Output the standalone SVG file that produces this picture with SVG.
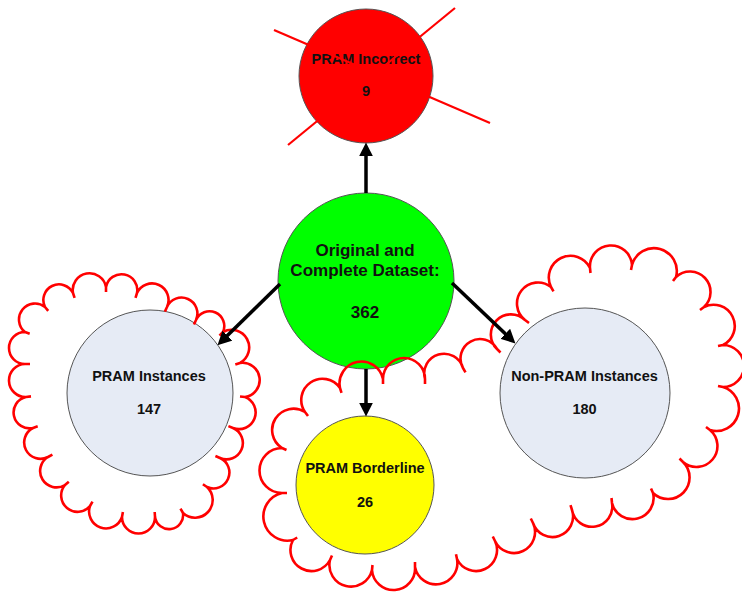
<svg xmlns="http://www.w3.org/2000/svg" width="742" height="592" viewBox="0 0 742 592">
<style>
.node{stroke:#555;stroke-width:1}
.t{font-family:"Liberation Sans",Arial,sans-serif;font-weight:bold;fill:#111;text-anchor:middle;font-size:14.5px}
.big{font-size:17px}
.cloud{fill:none;stroke:#ff0000;stroke-width:2.6;stroke-linecap:butt;stroke-linejoin:round}
.xline{stroke:#ff0000;stroke-width:2.2}
.conn{stroke:#000;stroke-width:3.5;fill:none}
</style>
<defs>
<marker id="ah" markerUnits="userSpaceOnUse" markerWidth="14" markerHeight="14" viewBox="0 0 13 13" refX="5" refY="6.5" orient="auto">
<path d="M0,0 L13,6.5 L0,13 z" fill="#000"/>
</marker>
</defs>
<rect width="742" height="592" fill="#fff"/>

<g id="node-incorrect">
<circle class="node" cx="366" cy="76" r="67" fill="#ff0000"/>
<text class="t" x="366" y="64">PRAM Incorrect</text>
<text class="t" x="366" y="96">9</text>
</g>

<g id="node-original">
<circle class="node" cx="366" cy="281" r="88" fill="#00ff00"/>
<text class="t big" x="365" y="256">Original and</text>
<text class="t big" x="365" y="276">Complete Dataset:</text>
<text class="t big" x="365" y="317.5">362</text>
</g>

<g id="node-pram">
<circle class="node" cx="150" cy="393" r="83" fill="#e6ebf5"/>
<text class="t" x="149" y="380.7">PRAM Instances</text>
<text class="t" x="149" y="414">147</text>
</g>

<g id="node-borderline">
<circle class="node" cx="365" cy="485" r="69" fill="#ffff00"/>
<text class="t" x="365" y="472.7">PRAM Borderline</text>
<text class="t" x="365" y="506.7">26</text>
</g>

<g id="node-nonpram">
<circle class="node" cx="585" cy="393" r="85" fill="#e6ebf5"/>
<text class="t" x="584.5" y="380.7">Non-PRAM Instances</text>
<text class="t" x="584.5" y="414">180</text>
</g>

<g id="cross-marks">
<line class="xline" x1="274" y1="30" x2="490" y2="123"/>
<line class="xline" x1="455" y1="8" x2="288" y2="145"/>
</g>

<g id="cloud-left">
<path class="cloud" d="M45,307 A1,1 0 0 1 73,293 L74.6,297.8 M73,293 A1,1 0 0 1 106,287 L106,292 M106,287 A1,1 0 0 1 137,293 L135.5,297.8 M137,293 A1,1 0 0 1 167,307 L164.9,311.6 M167,307 A1,1 0 0 1 196,320 L194,324.6 M196,320 A1,1 0 0 1 223,332 L219.5,335.6 M223,332 A1,1 0 0 1 240,363 L235.3,364.6 M240,363 A1,1 0 0 1 245,397 L240,396.5 M245,397 A1,1 0 0 1 233,428 L228.4,426.1 M233,428 A1,1 0 0 1 220,458 L215.4,456 M220,458 A1,1 0 0 1 207,487 L202.9,484.2 M207,487 A1,1 0 0 1 183,513 L180.5,508.7 M183,513 A1,1 0 0 1 155,517 L154.7,512 M155,517 A1,1 0 0 1 122,517 L122.9,512 M122,517 A1,1 0 0 1 90,506 L92.5,501.7 M90,506 A1,1 0 0 1 65,485 L68.8,481.8 M65,485 A1,1 0 0 1 48,457 L52.4,454.6 M48,457 A1,1 0 0 1 33,428 L37.7,426.3 M33,428 A1,1 0 0 1 26,397 L31,396.4 M26,397 A1,1 0 0 1 25,364 L30,364 M25,364 A1,1 0 0 1 25,332 L29.7,333.7 M25,332 A1,1 0 0 1 45,307 L48.2,310.9"/>
</g>

<g id="cloud-right">
<path class="cloud" d="M282,493 A1,1 0 0 1 282,448 L286.5,450 M282,448 A1,1 0 0 1 305,412 L308,416 M305,412 A1,1 0 0 1 340,388 L341.5,392.8 M340,388 A1,1 0 0 1 383,379 L383,384 M383,379 A1,1 0 0 1 425,379 L425,384 M425,379 A1,1 0 0 1 463,368 L465.5,372.3 M463,368 A1,1 0 0 1 497,349 L500.5,352.5 M497,349 A1,1 0 0 1 525,320 L529,323 M525,320 A1,1 0 0 1 551,287 L553.5,291.3 M551,287 A1,1 0 0 1 590,268 L590.5,273 M590,268 A1,1 0 0 1 632,265 L631,270 M632,265 A1,1 0 0 1 676,277 L673,281 M676,277 A1,1 0 0 1 704,307 L700,310 M704,307 A1,1 0 0 1 723,345 L718,346 M723,345 A1,1 0 0 1 723,387 L718,386 M723,387 A1,1 0 0 1 710,430 L706,427 M710,430 A1,1 0 0 1 683,462 L679.5,458.5 M683,462 A1,1 0 0 1 653,493 L651,488.5 M653,493 A1,1 0 0 1 612,503 L611.5,498 M612,503 A1,1 0 0 1 572,510 L570.5,505.2 M572,510 A1,1 0 0 1 533,523 L530.8,518.5 M533,523 A1,1 0 0 1 495,541 L492.8,536.5 M495,541 A1,1 0 0 1 457,559 L456,554.2 M457,559 A1,1 0 0 1 415,567 L415,562 M415,567 A1,1 0 0 1 372,570 L372.5,565 M372,570 A1,1 0 0 1 330,560 L332,555.5 M330,560 A1,1 0 0 1 293,540 L297.2,537.5 M293,540 A1,1 0 0 1 282,493 L287,493"/>
</g>

<g id="connectors">
<line class="conn" x1="366" y1="193" x2="366" y2="151" marker-end="url(#ah)"/>
<line class="conn" x1="366" y1="369" x2="366" y2="408" marker-end="url(#ah)"/>
<line class="conn" x1="280" y1="284" x2="223.6" y2="339.3" marker-end="url(#ah)"/>
<line class="conn" x1="452" y1="283" x2="509.2" y2="337.5" marker-end="url(#ah)"/>
</g>
</svg>
